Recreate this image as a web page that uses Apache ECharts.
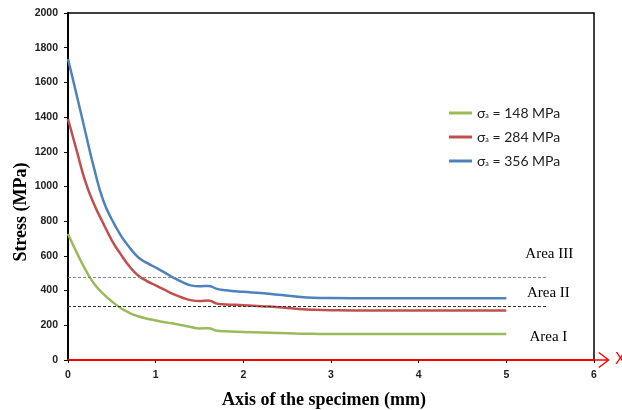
<!DOCTYPE html>
<html>
<head>
<meta charset="utf-8">
<script src="https://cdn.jsdelivr.net/npm/echarts@6/dist/echarts.min.js"></script>
<style>
  html, body { margin: 0; padding: 0; background: #fff; }
  #chart { width: 622px; height: 410px; }
</style>
</head>
<body>
<div id="chart"></div>
<script>
// distance along the specimen axis (mm)
const xs = [0, 0.1, 0.2, 0.3, 0.4, 0.5, 0.6, 0.7, 0.8, 0.9, 1.0, 1.1, 1.2, 1.3, 1.4, 1.5, 1.6, 1.7, 1.8, 2.0, 2.2, 2.4, 2.6, 2.8, 3.0, 3.5, 4.0, 4.5, 5.0]

// stress (MPa) for each stress amplitude
const stress148 = [726, 619, 520, 438, 383, 338, 300, 272, 252, 238, 228, 218, 210, 200, 190, 182, 183, 168, 165, 162, 159, 156, 153, 151, 150, 150, 150, 150, 150]
const stress284 = [1389, 1205, 1025, 895, 790, 690, 610, 540, 487, 455, 430, 405, 380, 360, 345, 340, 343, 325, 320, 316, 310, 304, 296, 290, 287, 285, 285, 285, 285]
const stress356 = [1735, 1525, 1310, 1100, 922, 810, 720, 650, 592, 560, 533, 505, 475, 450, 430, 425, 427, 410, 402, 393, 386, 376, 366, 359, 357, 356, 356, 356, 356]

const amplitudes = ['148', '284', '356']

// area boundaries and labels
const boundaryLevels = [478, 311]
const boundaryEnd = 5.47
const areaNames = ['Area III', 'Area II', 'Area I']
const areaX = [5.49, 5.48, 5.48]
const areaY = [611, 386, 133]

const lineColors = ['#9BBB59', '#C0504D', '#4F81BD']
const dashColors = ['#888888', '#333333']

const chart = echarts.init(document.getElementById('chart'))

const toPairs = vals => vals.map((v, i) => [xs[i], v])

const lineSeries = [stress148, stress284, stress356].map((vals, i) => ({
  name: amplitudes[i],
  type: 'line',
  smooth: 0.5,
  showSymbol: false,
  data: toPairs(vals),
  lineStyle: { width: 2.5, color: lineColors[i] },
  itemStyle: { color: lineColors[i] },
  z: 3
}))

// dashed area boundaries
lineSeries[0].markLine = {
  silent: true,
  symbol: 'none',
  label: { show: false },
  animation: false,
  data: boundaryLevels.map((lv, i) => [
    { coord: [0, lv], lineStyle: { color: dashColors[i], type: [3, 2], width: 1 } },
    { coord: [boundaryEnd, lv] }
  ])
}

const areaSeries = {
  name: 'areas',
  type: 'scatter',
  symbolSize: 1,
  silent: true,
  itemStyle: { opacity: 0 },
  data: areaNames.map((n, i) => ({ name: n, value: [areaX[i], areaY[i]] })),
  label: {
    show: true,
    position: 'inside',
    formatter: '{b}',
    fontFamily: 'Liberation Serif',
    fontSize: 15,
    color: '#000',
    opacity: 1
  }
}

// open arrow head + short shaft at the end of the x axis (points up before rotation)
const arrowPath = 'path://M8,0 L16,10.5 L15,11.4 L8,2.2 L1,11.4 L0,10.5 Z M7.3,1 L8.7,1 L8.7,15.5 L7.3,15.5 Z'

chart.setOption({
  animation: false,
  grid: {
    left: 68, right: 28, top: 13, bottom: 50,
    show: true,
    borderColor: '#000',
    borderWidth: 1.5,
    outerBoundsMode: 'none'
  },
  legend: {
    data: amplitudes,
    orient: 'vertical',
    left: 444,
    top: 101,
    itemWidth: 23,
    itemHeight: 3,
    itemGap: 10,
    icon: 'rect',
    formatter: name => '{g|σ}{sub|a}{g| = ' + name + ' MPa}',
    textStyle: {
      rich: {
        g: { fontFamily: 'Lato', fontSize: 14, color: '#222', lineHeight: 16 },
        sub: { fontFamily: 'Lato', fontSize: 7, color: '#222', padding: [6, 0, 0, 0] }
      }
    }
  },
  xAxis: {
    type: 'value',
    min: 0,
    max: 6,
    interval: 1,
    name: 'X',
    nameLocation: 'end',
    nameGap: 21,
    nameTextStyle: { color: '#ff0000', fontFamily: 'Liberation Sans', fontSize: 16, padding: [22, 0, 0, 0] },
    axisLine: {
      onZero: false,
      lineStyle: { color: '#ff0000', width: 2 },
      symbol: ['none', arrowPath],
      symbolSize: [16, 16],
      symbolOffset: [0, 8]
    },
    axisTick: { show: true, length: 3, lineStyle: { color: '#000' } },
    axisLabel: { margin: 10, fontFamily: 'Liberation Sans', fontWeight: 'bold', fontSize: 10.5, color: '#222' },
    splitLine: { show: false }
  },
  yAxis: {
    type: 'value',
    min: 0,
    max: 2000,
    interval: 200,
    axisLine: { show: true, lineStyle: { color: '#000', width: 2 } },
    axisTick: { show: true, length: 4, lineStyle: { color: '#000' } },
    axisLabel: {
      margin: 10, fontFamily: 'Liberation Sans', fontWeight: 'bold', fontSize: 10.5, color: '#222',
      formatter: v => String(v)
    },
    splitLine: { show: false }
  },
  graphic: [
    {
      type: 'text',
      x: 324, y: 400,
      style: {
        text: 'Axis of the specimen (mm)',
        fontFamily: 'Liberation Serif', fontWeight: 'bold', fontSize: 18,
        fill: '#000', align: 'center', verticalAlign: 'middle'
      }
    },
    {
      type: 'text',
      x: 21, y: 212,
      rotation: Math.PI / 2,
      style: {
        text: 'Stress (MPa)',
        fontFamily: 'Liberation Serif', fontWeight: 'bold', fontSize: 18,
        fill: '#000', align: 'center', verticalAlign: 'middle'
      }
    }
  ],
  series: [...lineSeries, areaSeries]
})
</script>
</body>
</html>
